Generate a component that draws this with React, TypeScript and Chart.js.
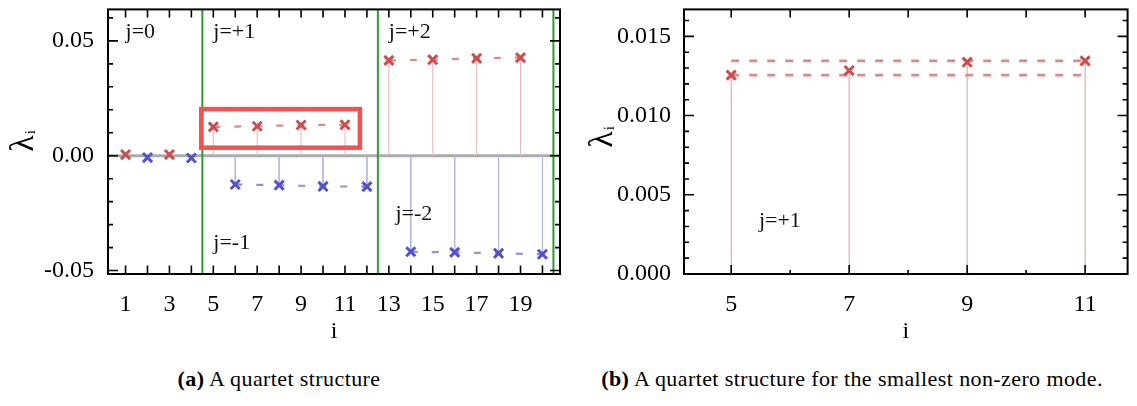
import React, { useEffect, useRef } from "react";
import { Chart, registerables } from "chart.js";
Chart.register(...registerables);

const SERIF = "'Liberation Serif', 'Times New Roman', serif";

// ---------------- Data ----------------
// Panel (a): eigenvalues lambda_i versus index i, grouped by sector j
const j0UpI = [1, 3];
const j0UpL = [0.0005, 0.0005];
const j0DnI = [2, 4];
const j0DnL = [-0.0008, -0.001];
const jp1I = [5, 7, 9, 11];
const jp1L = [0.01255, 0.01284, 0.01337, 0.01345];
const jm1I = [6, 8, 10, 12];
const jm1L = [-0.01255, -0.01284, -0.01337, -0.01345];
const jp2I = [13, 15, 17, 19];
const jp2L = [0.0415, 0.0418, 0.0424, 0.0427];
const jm2I = [14, 16, 18, 20];
const jm2L = [-0.0418, -0.0421, -0.0425, -0.0429];
const sectorBounds = [4.5, 12.5, 20.5];

// Tick labels
const xTickLabelsA = [1, 3, 5, 7, 9, 11, 13, 15, 17, 19];
const yTickLabelsA = [-0.05, 0, 0.05];
const xTickLabelsB = [5, 7, 9, 11];
const yTickLabelsB = [0, 0.005, 0.01, 0.015];

// Sector labels
const sectorTextsA = ["j=0", "j=+1", "j=+2", "j=-1", "j=-2"];
const sectorTextB = "j=+1";

// ---------------- Styling / positions ----------------
const RED = "#d04c4c";
const BLUE = "#5252cc";
const RED_DASH = "#d98a8a";
const BLUE_DASH = "#9090dc";
const RED_STEM = "#e8b5b5";
const BLUE_STEM = "#b5b5ea";
const RED_STEM_B = "#dc9f9f";

const notePosA = [
  { x: 1.0, y: 0.0513 },
  { x: 5.0, y: 0.0513 },
  { x: 13.0, y: 0.0513 },
  { x: 5.0, y: -0.0408 },
  { x: 13.3, y: -0.0278 },
];
const notePosB = { x: 5.47, y: 0.00294 };
const boxA = { x0: 4.45, x1: 11.68, y0: 0.0035, y1: 0.0203 };

type Tick = { v: number; top: number; bottom: number };
type YTick = { v: number; len: number };
type Decor = {
  zeroLine: boolean;
  bounds: number[];
  box?: { x0: number; x1: number; y0: number; y1: number };
  notes: { text: string; x: number; y: number }[];
  xTicks: Tick[];
  yTicks: YTick[];
  titleBaseX: number;
  titleCenterY: number;
};

const pts = (xs: number[], ys: number[]) => xs.map((x, k) => ({ x, y: ys[k] }));

function stems(xs: number[], ys: number[], color: string) {
  return xs.map((x, k) => ({
    data: [
      { x, y: 0 },
      { x, y: ys[k] },
    ],
    showLine: true,
    borderColor: color,
    borderWidth: 1,
    pointRadius: 0,
    order: 3,
  }));
}
function dashed(data: { x: number; y: number }[], color: string, dash: number[], w: number) {
  return {
    data,
    showLine: true,
    borderColor: color,
    borderWidth: w,
    borderDash: dash,
    pointRadius: 0,
    order: 2,
  };
}
function markers(xs: number[], ys: number[], color: string) {
  return {
    data: pts(xs, ys),
    showLine: false,
    pointStyle: "crossRot",
    pointRadius: 6.4,
    pointBorderWidth: 3,
    pointBorderColor: color,
    pointBackgroundColor: color,
    borderColor: color,
    order: 0,
  };
}

function makeDecor(cfg: Decor) {
  return {
    id: "decor",
    beforeDatasetsDraw(chart: any) {
      const { ctx, chartArea: a } = chart;
      const x = chart.scales.x;
      const y = chart.scales.y;
      ctx.save();
      ctx.beginPath();
      ctx.rect(a.left, a.top, a.right - a.left, a.bottom - a.top);
      ctx.clip();
      if (cfg.zeroLine) {
        const py = y.getPixelForValue(0);
        ctx.strokeStyle = "#ababab";
        ctx.lineWidth = 3;
        ctx.beginPath();
        ctx.moveTo(a.left, py);
        ctx.lineTo(a.right, py);
        ctx.stroke();
      }
      ctx.strokeStyle = "#2f9a2f";
      ctx.lineWidth = 2;
      for (const b of cfg.bounds) {
        const px = x.getPixelForValue(b);
        ctx.beginPath();
        ctx.moveTo(px, a.top);
        ctx.lineTo(px, a.bottom);
        ctx.stroke();
      }
      ctx.restore();
    },
    afterDatasetsDraw(chart: any) {
      const { ctx } = chart;
      const x = chart.scales.x;
      const y = chart.scales.y;
      ctx.save();
      if (cfg.box) {
        const b = cfg.box;
        const x0 = x.getPixelForValue(b.x0);
        const x1 = x.getPixelForValue(b.x1);
        const y0 = y.getPixelForValue(b.y1);
        const y1 = y.getPixelForValue(b.y0);
        ctx.strokeStyle = "#f25252";
        ctx.lineWidth = 4.5;
        ctx.strokeRect(x0, y0, x1 - x0, y1 - y0);
      }
      ctx.fillStyle = "#111";
      ctx.font = `22px ${SERIF}`;
      ctx.textAlign = "left";
      ctx.textBaseline = "alphabetic";
      for (const n of cfg.notes) {
        ctx.fillText(n.text, x.getPixelForValue(n.x), y.getPixelForValue(n.y));
      }
      ctx.restore();
    },
    afterDraw(chart: any) {
      const { ctx, chartArea: a } = chart;
      const x = chart.scales.x;
      const y = chart.scales.y;
      ctx.save();
      ctx.strokeStyle = "#000";
      ctx.lineWidth = 1.6;
      ctx.beginPath();
      for (const t of cfg.xTicks) {
        const px = x.getPixelForValue(t.v);
        if (t.bottom > 0) {
          ctx.moveTo(px, a.bottom);
          ctx.lineTo(px, a.bottom - t.bottom);
        }
        if (t.top > 0) {
          ctx.moveTo(px, a.top);
          ctx.lineTo(px, a.top + t.top);
        }
      }
      for (const t of cfg.yTicks) {
        const py = y.getPixelForValue(t.v);
        ctx.moveTo(a.left, py);
        ctx.lineTo(a.left + t.len, py);
        ctx.moveTo(a.right, py);
        ctx.lineTo(a.right - t.len, py);
      }
      ctx.stroke();
      ctx.lineWidth = 2;
      ctx.strokeRect(a.left, a.top, a.right - a.left, a.bottom - a.top);

      // x title
      ctx.fillStyle = "#000";
      ctx.font = `24px ${SERIF}`;
      ctx.textAlign = "center";
      ctx.textBaseline = "alphabetic";
      ctx.fillText("i", (a.left + a.right) / 2, 338);

      // y title: lambda with subscript i, rotated
      ctx.font = `34px ${SERIF}`;
      const wL = ctx.measureText("λ").width;
      ctx.font = `15px ${SERIF}`;
      const wI = ctx.measureText("i").width;
      const total = wL + wI + 1;
      ctx.translate(cfg.titleBaseX, cfg.titleCenterY + total / 2);
      ctx.rotate(-Math.PI / 2);
      ctx.textAlign = "left";
      ctx.font = `34px ${SERIF}`;
      ctx.fillText("λ", 0, 0);
      ctx.font = `15px ${SERIF}`;
      ctx.fillText("i", wL + 1, 2);
      ctx.restore();
    },
  };
}

function scaleOpts(
  min: number,
  max: number,
  ticks: number[],
  fmt: (v: number) => string,
  isX: boolean,
  size: number,
  pad: number
) {
  return {
    type: "linear",
    min,
    max,
    grid: { display: false, drawTicks: false, tickLength: 0 },
    border: { display: false },
    afterBuildTicks: (s: any) => {
      s.ticks = ticks.map((v) => ({ value: v }));
    },
    afterFit: (s: any) => {
      if (isX) s.height = size;
      else s.width = size;
      s.paddingTop = 0;
      s.paddingBottom = 0;
      s.paddingLeft = 0;
      s.paddingRight = 0;
    },
    ticks: {
      autoSkip: false,
      maxRotation: 0,
      minRotation: 0,
      padding: pad,
      color: "#000",
      font: { family: SERIF, size: 24 },
      callback: (v: any) => fmt(Number(v)),
    },
  };
}

function useChart(ref: React.RefObject<HTMLCanvasElement | null>, build: () => any) {
  useEffect(() => {
    if (!ref.current) return;
    const chart = new Chart(ref.current, build());
    return () => chart.destroy();
  }, []);
}

function PanelA() {
  const ref = useRef<HTMLCanvasElement | null>(null);
  useChart(ref, () => {
    const xTicks: Tick[] = [];
    for (let v = 1; v <= 20; v++) xTicks.push({ v, top: 8, bottom: 8.5 });
    const yTicks: YTick[] = [];
    for (let k = -5; k <= 6; k++) yTicks.push({ v: k / 100, len: k % 5 === 0 ? 10 : 5 });
    const decor = makeDecor({
      zeroLine: true,
      bounds: sectorBounds,
      box: boxA,
      notes: sectorTextsA.map((t, k) => ({ text: t, ...notePosA[k] })),
      xTicks,
      yTicks,
      titleBaseX: 33,
      titleCenterY: 141,
    });
    const dash = [7, 14];
    return {
      type: "scatter",
      data: {
        datasets: [
          markers(j0UpI, j0UpL, RED),
          markers(j0DnI, j0DnL, BLUE),
          markers(jp1I, jp1L, RED),
          markers(jm1I, jm1L, BLUE),
          markers(jp2I, jp2L, RED),
          markers(jm2I, jm2L, BLUE),
          dashed(pts(jp1I, jp1L), RED_DASH, dash, 2.2),
          dashed(pts(jm1I, jm1L), BLUE_DASH, dash, 2.2),
          dashed(pts(jp2I, jp2L), RED_DASH, dash, 2.2),
          dashed(pts(jm2I, jm2L), BLUE_DASH, dash, 2.2),
          ...stems(j0UpI, j0UpL, RED_STEM),
          ...stems(j0DnI, j0DnL, BLUE_STEM),
          ...stems(jp1I, jp1L, RED_STEM),
          ...stems(jm1I, jm1L, BLUE_STEM),
          ...stems(jp2I, jp2L, RED_STEM),
          ...stems(jm2I, jm2L, BLUE_STEM),
        ],
      },
      options: {
        responsive: false,
        animation: false,
        events: [],
        layout: { padding: { left: 0, top: 3, right: 20, bottom: 0 } },
        plugins: { legend: { display: false }, tooltip: { enabled: false } },
        scales: {
          x: scaleOpts(0.2, 20.8, xTickLabelsA, (v) => String(v), true, 76, 16),
          y: scaleOpts(-0.0515, 0.0637, yTickLabelsA, (v) => v.toFixed(2), false, 108, 14),
        },
      },
      plugins: [decor],
    };
  });
  return (
    <canvas
      ref={ref}
      width={580}
      height={350}
      style={{ position: "absolute", left: 0, top: 0, width: 580, height: 350 }}
    />
  );
}

function PanelB() {
  const ref = useRef<HTMLCanvasElement | null>(null);
  useChart(ref, () => {
    const xTicks: Tick[] = [];
    for (let v = 5; v <= 11; v++) xTicks.push({ v, top: 8, bottom: v % 2 === 1 ? 9 : 4 });
    const yTicks: YTick[] = [];
    for (let k = 0; k <= 16; k++) yTicks.push({ v: k / 1000, len: k % 5 === 0 ? 10 : 5 });
    const lo = Math.min(...jp1L);
    const hi = Math.max(...jp1L);
    const x0 = jp1I[0];
    const x1 = jp1I[jp1I.length - 1];
    const decor = makeDecor({
      zeroLine: false,
      bounds: [],
      notes: [{ text: sectorTextB, ...notePosB }],
      xTicks,
      yTicks,
      titleBaseX: 42,
      titleCenterY: 137,
    });
    const dash = [8, 10];
    return {
      type: "scatter",
      data: {
        datasets: [
          markers(jp1I, jp1L, RED),
          dashed([{ x: x0, y: hi }, { x: x1, y: hi }], RED_DASH, dash, 2.6),
          dashed([{ x: x0, y: lo }, { x: x1, y: lo }], RED_DASH, dash, 2.6),
          ...stems(jp1I, jp1L, RED_STEM_B),
        ],
      },
      options: {
        responsive: false,
        animation: false,
        events: [],
        layout: { padding: { left: 0, top: 3, right: 5, bottom: 0 } },
        plugins: { legend: { display: false }, tooltip: { enabled: false } },
        scales: {
          x: scaleOpts(4.2, 11.72, xTickLabelsB, (v) => String(v), true, 76, 16),
          y: scaleOpts(0, 0.0167, yTickLabelsB, (v) => v.toFixed(3), false, 114, 13),
        },
      },
      plugins: [decor],
    };
  });
  return (
    <canvas
      ref={ref}
      width={567}
      height={350}
      style={{ position: "absolute", left: 570, top: 0, width: 567, height: 350 }}
    />
  );
}

export default function App() {
  const cap: React.CSSProperties = {
    position: "absolute",
    top: 368,
    textAlign: "center",
    font: `22px ${SERIF}`,
    lineHeight: "22px",
    letterSpacing: "0.4px",
    color: "#000",
    whiteSpace: "nowrap",
  };
  return (
    <div
      style={{
        position: "fixed",
        left: 0,
        top: 0,
        width: 1137,
        height: 406,
        background: "#fff",
        overflow: "hidden",
      }}
    >
      <PanelA />
      <PanelB />
      <div style={{ ...cap, left: 0, width: 558 }}>
        <b>(a)</b> A quartet structure
      </div>
      <div style={{ ...cap, left: 552, width: 600 }}>
        <b>(b)</b> A quartet structure for the smallest non-zero mode.
      </div>
    </div>
  );
}
